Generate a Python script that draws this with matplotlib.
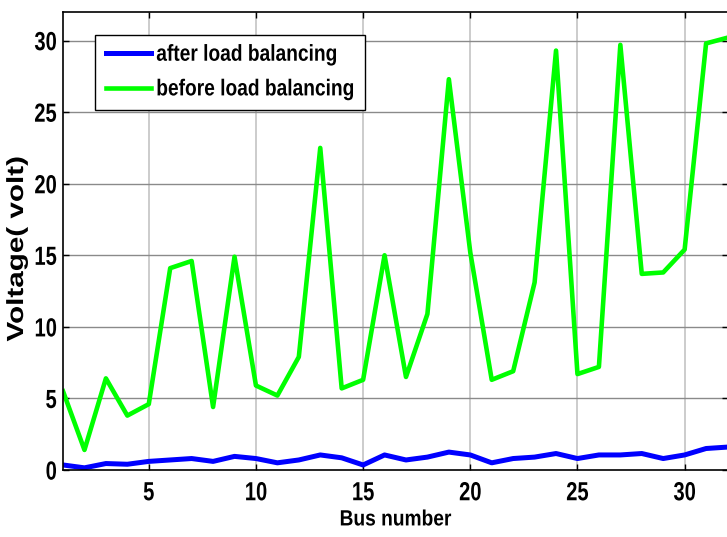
import matplotlib
matplotlib.use('Agg')
import matplotlib.pyplot as plt
import matplotlib.patheffects as pe
from matplotlib.transforms import Affine2D

# bus numbers and voltages
bus = list(range(1, 33))
after = [0.35, 0.15, 0.45, 0.4, 0.6, 0.7, 0.8, 0.6, 0.95, 0.8, 0.5, 0.7, 1.05,
         0.85, 0.35, 1.05, 0.7, 0.9, 1.25, 1.05, 0.5, 0.8, 0.9, 1.15, 0.8, 1.05,
         1.05, 1.15, 0.8, 1.05, 1.5, 1.6]
before = [5.5, 1.4, 6.4, 3.8, 4.6, 14.1, 14.6, 4.4, 14.9, 5.9, 5.2, 7.9, 22.5,
          5.7, 6.3, 15.0, 6.5, 10.9, 27.3, 15.2, 6.3, 6.9, 13.1, 29.3, 6.7, 7.2,
          29.7, 13.7, 13.8, 15.4, 29.8, 30.2]


# the reference text is tall and narrow, so stretch glyphs about their centre
class Stretch(pe.AbstractPathEffect):
    def __init__(self, sx=1.0, sy=1.0):
        super().__init__()
        self.sx, self.sy = sx, sy

    def draw_path(self, renderer, gc, tpath, affine, rgbFace=None):
        v = tpath.vertices
        if len(v):
            cx = (v[:, 0].min() + v[:, 0].max()) / 2
            cy = (v[:, 1].min() + v[:, 1].max()) / 2
        else:
            cx = cy = 0
        t = Affine2D().translate(-cx, -cy).scale(self.sx, self.sy).translate(cx, cy)
        renderer.draw_path(gc, tpath, t + affine, rgbFace)


plt.rcParams['font.family'] = ['Liberation Sans', 'DejaVu Sans']
plt.rcParams['font.weight'] = 'bold'

fig = plt.figure(figsize=(7.27, 5.37), dpi=100)
ax = fig.add_axes([0.0867, 0.1248, 0.9140, 0.853])

ax.plot(bus, after, color='#0000ff', lw=3.6, label='after load balancing')
ax.plot(bus, before, color='#00ff00', lw=3.3, label='before load balancing')

ax.set_xlim(1, 32)
ax.set_ylim(0, 32)
ax.set_xticks([5, 10, 15, 20, 25, 30])
ax.set_yticks([0, 5, 10, 15, 20, 25, 30])

for x in [5, 10, 15, 20, 25, 30]:
    ax.axvline(x, color='#c4c4c4', lw=1.2, zorder=0)
for y in [5, 10, 15, 20, 25, 30]:
    ax.axhline(y, color='#8a8a8a', lw=1.0, zorder=0)

ax.tick_params(direction='in', length=4, width=1, top=True, right=True, labelsize=14.5)
ax.tick_params(axis='x', pad=9.5)
ax.tick_params(axis='y', pad=4.5)
for lab in ax.get_xticklabels() + ax.get_yticklabels():
    lab.set_fontweight('bold')
    lab.set_path_effects([Stretch(1.0, 1.3)])
for s in ax.spines.values():
    s.set_linewidth(1.2)

xl = ax.set_xlabel('Bus number', fontsize=13.8, fontweight='bold')
xl.set_va('center')
ax.xaxis.set_label_coords(0.5, -0.109)
xl.set_path_effects([Stretch(1.0, 1.15)])

yl = ax.set_ylabel('Voltage( volt)', fontsize=16.8, fontweight='bold')
yl.set_va('center')
ax.yaxis.set_label_coords(-0.070, 0.4825)
yl.set_path_effects([Stretch(1.27, 1.0)])

leg = ax.legend(loc='upper left', bbox_to_anchor=(0.048, 0.950), fontsize=13.8,
                frameon=True, fancybox=False, edgecolor='black', framealpha=1,
                borderpad=0.6, handlelength=2.3, handletextpad=0.3, labelspacing=0.9,
                borderaxespad=0)
leg.get_frame().set_linewidth(1.0)
for t in leg.get_texts():
    t.set_fontweight('bold')
    t.set_path_effects([Stretch(1.0, 1.2)])

fig.savefig('out.png', dpi=100)
